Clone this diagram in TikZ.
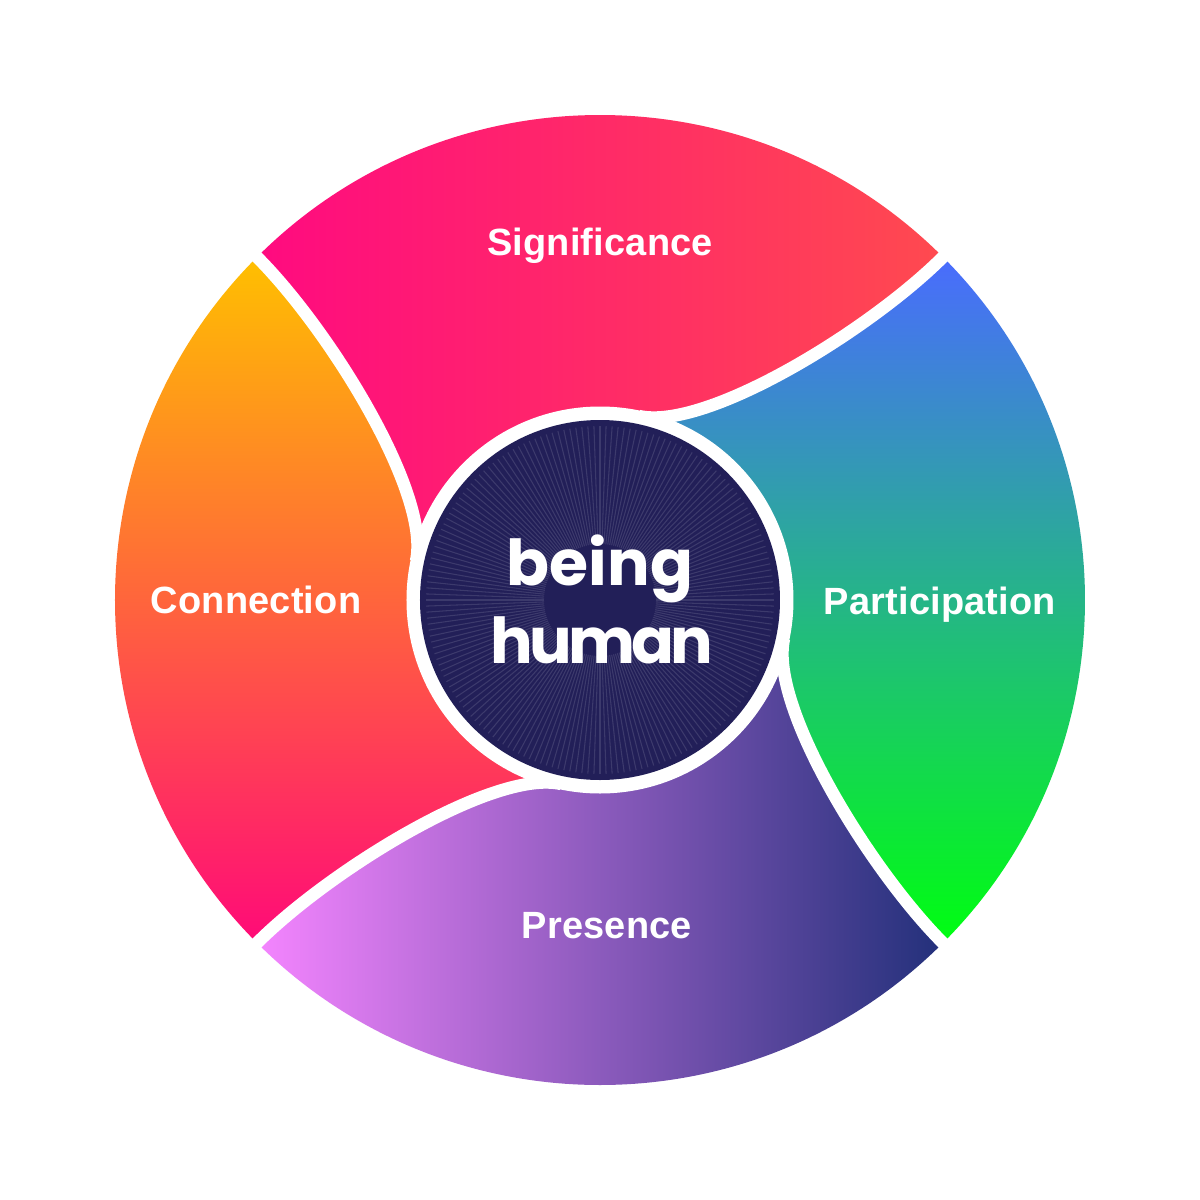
\documentclass[tikz,border=0pt]{standalone}
\usepackage{fontspec}
\newfontfamily\hubfont{Poppins}
\newfontfamily\lblfont{Liberation Sans}[LetterSpace=0.5]
\definecolor{sigL}{HTML}{FF0A80}\definecolor{sigR}{HTML}{FF4A4F}
\definecolor{conT}{HTML}{FFC000}\definecolor{conM}{HTML}{FF8A2A}\definecolor{conB}{HTML}{FF0A78}
\definecolor{presL}{HTML}{F585FF}\definecolor{presR}{HTML}{22307A}
\definecolor{partT}{HTML}{4A6BFF}\definecolor{partB}{HTML}{00FF10}
\definecolor{hubnavy}{HTML}{221F58}
% one blade of the wheel, turned by #1 quarter turns
\newcommand\swirl[1]{({45+90*#1}:4.85) arc[start angle={45+90*#1}, end angle={135+90*#1}, radius=4.85]
  .. controls ({135+90*#1}:3.83) and ({147.7+90*#1}:2.0) .. ({168+90*#1}:1.88) -- ({168+90*#1}:1.7)
  arc[start angle={168+90*#1}, end angle={78+90*#1}, radius=1.7] -- ({78+90*#1}:1.88)
  .. controls ({57.7+90*#1}:2.0) and ({45+90*#1}:3.83) .. cycle}
\newcommand\seamline[1]{({45+90*#1}:5.05) -- ({45+90*#1}:4.85) .. controls ({45+90*#1}:3.83) and ({57.7+90*#1}:2.0) .. ({78+90*#1}:1.88)}
\begin{document}
\begin{tikzpicture}[line join=round, seam/.style={white, line width=0.125cm}, spoke/.style={white, opacity=0.12, line width=0.3pt},
  lbl/.style={white, anchor=base, inner sep=0pt, font=\lblfont\bfseries\fontsize{10.8}{13}\selectfont},
  hub/.style={white, anchor=base, inner sep=0pt, font=\hubfont\bfseries\fontsize{18}{22}\selectfont}]
\fill[white] (-6,-6) rectangle (6,6);
\begin{scope} \clip \swirl{0}; \shade[left color=sigL, right color=sigR] (-3.45,0) rectangle (3.45,4.9); \end{scope}
\begin{scope} \clip \swirl{1}; \shade[top color=conT, middle color=conM, bottom color=conB] (-4.9,-3.45) rectangle (0.5,3.45); \end{scope}
\begin{scope} \clip \swirl{2}; \shade[left color=presL, right color=presR] (-3.45,-4.9) rectangle (3.45,0.5); \end{scope}
\begin{scope} \clip \swirl{3}; \shade[top color=partT, bottom color=partB] (-0.5,-3.45) rectangle (4.9,3.45); \end{scope}
\foreach \k in {0,...,3} \draw[seam] \seamline{\k};
\fill[white] (0,0) circle (1.935); \fill[hubnavy] (0,0) circle (1.8);
\foreach \a in {0,2,...,358} \draw[spoke] (\a:0.56) -- (\a:1.74);
\node[hub] (being) at (0,0.15) {being}; \node[hub] (human) at (0.02,-0.63) {\addfontfeature{LetterSpace=-6}human};
\node[lbl] (sig) at (0,3.445) {Significance}; \node[lbl] (part) at (3.40,-0.14) {Participation};
\node[lbl] (con) at (-3.44,-0.13) {Connection}; \node[lbl] (pres) at (0.07,-3.38) {Presence};
\end{tikzpicture}
\end{document}
